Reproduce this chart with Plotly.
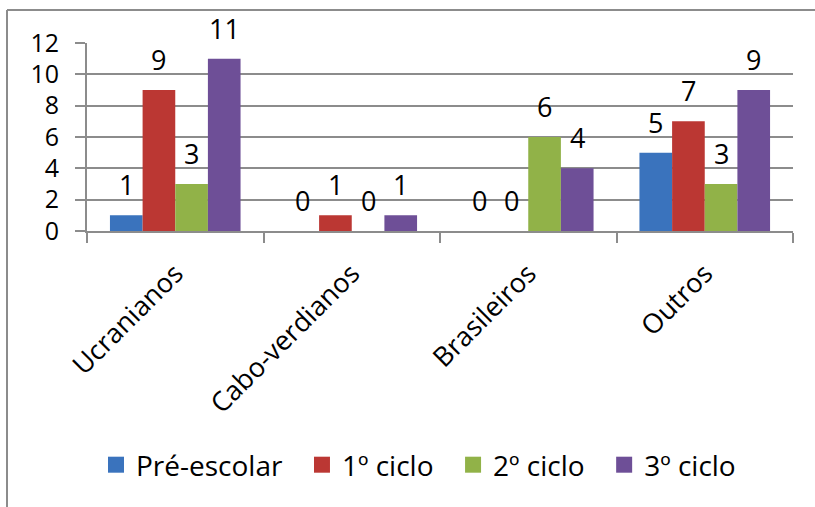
import plotly.graph_objects as go

categories = ["Ucranianos", "Cabo-verdianos", "Brasileiros", "Outros"]
series_names = ["Pré-escolar", "1º ciclo", "2º ciclo", "3º ciclo"]
pre_escolar = [1, 0, 0, 5]
ciclo_1 = [9, 1, 0, 7]
ciclo_2 = [3, 0, 6, 3]
ciclo_3 = [11, 1, 4, 9]
y_ticks = [0, 2, 4, 6, 8, 10, 12]

series = [pre_escolar, ciclo_1, ciclo_2, ciclo_3]
colors = ["#3a73bd", "#bb3733", "#91b248", "#6e4f97"]
FONT = "Open Sans"

# plot-area geometry in pixels
W, H = 815, 507
L, R, T, B = 87, 22, 43, 276
pw, ph = W - L - R, H - T - B
BARGAP = 0.26
n_series = len(series)
bar_px = pw / len(categories) * (1 - BARGAP) / n_series


def px_x(p):
    return (p - L) / pw


def px_y(p):
    return (H - B - p) / ph


fig = go.Figure()
annotations = []
for j, (name, vals, col) in enumerate(zip(series_names, series, colors)):
    fig.add_trace(go.Bar(
        name=name, x=categories, y=vals,
        marker=dict(color=col, line=dict(width=0)),
        showlegend=False, cliponaxis=False,
    ))
    # square legend swatch
    fig.add_trace(go.Scatter(
        name=name + "\u00a0\u00a0", x=[None], y=[None], mode="markers",
        marker=dict(symbol="square", size=19, color=col),
        showlegend=True,
    ))
    # value labels above each bar
    for cat, v in zip(categories, vals):
        annotations.append(dict(
            x=cat, y=v, xref="x", yref="y", text=str(v), showarrow=False,
            xshift=(j - (n_series - 1) / 2) * bar_px, yshift=10, yanchor="bottom",
            font=dict(family=FONT, size=27, color="#000000"),
        ))

fig.update_layout(
    width=W, height=H,
    margin=dict(l=L, r=R, t=T, b=B),
    paper_bgcolor="white", plot_bgcolor="white",
    barmode="group", bargap=BARGAP, bargroupgap=0,
    font=dict(family=FONT, size=24, color="#000000"),
    showlegend=True,
    legend=dict(
        orientation="h", x=px_x(426), xanchor="center", y=px_y(465), yanchor="middle",
        font=dict(family=FONT, size=28, color="#000000"),
        tracegroupgap=0,
    ),
    annotations=annotations,
    shapes=[
        dict(type="line", xref="paper", yref="paper",
             x0=px_x(7), x1=px_x(815), y0=px_y(10), y1=px_y(10),
             line=dict(color="#8c8c8c", width=2)),
        dict(type="line", xref="paper", yref="paper",
             x0=px_x(7), x1=px_x(7), y0=px_y(10), y1=px_y(507),
             line=dict(color="#8c8c8c", width=2)),
    ],
)
fig.update_yaxes(
    range=[0, 12], tickvals=y_ticks, showgrid=True, gridcolor="#8c8c8c", gridwidth=2,
    showline=True, linecolor="#8c8c8c", linewidth=2, ticks="outside", ticklen=10,
    tickcolor="#8c8c8c", tickwidth=2, zeroline=False,
    tickfont=dict(family=FONT, size=25, color="#000000"), ticklabelstandoff=11,
)
fig.update_xaxes(
    showline=True, linecolor="#8c8c8c", linewidth=2,
    ticks="outside", ticklen=10, tickcolor="#8c8c8c", tickwidth=2,
    tickson="boundaries", tickangle=-45, ticklabelstandoff=14,
    tickfont=dict(family=FONT, size=27, color="#000000"),
)

fig.write_html("out.html")
